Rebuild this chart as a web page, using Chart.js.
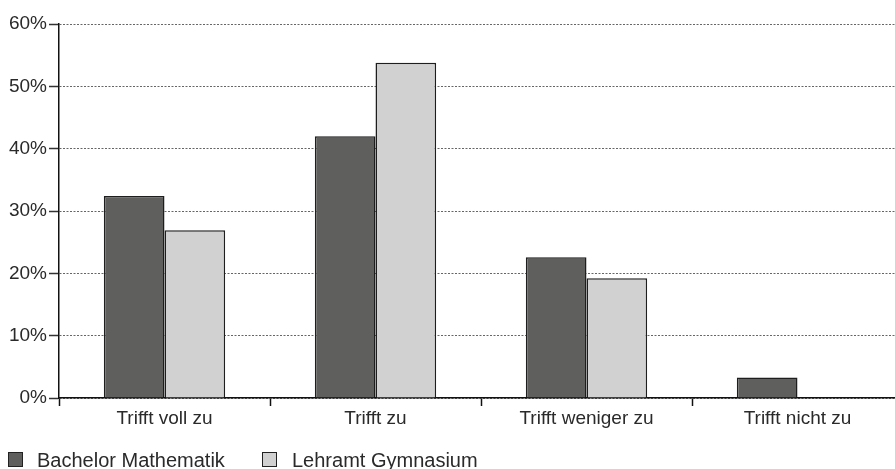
<!doctype html>
<html lang="de">
<head>
	<meta charset="utf-8">
	<title>Trifft zu</title>
	<script src="https://cdn.jsdelivr.net/npm/chart.js"></script>
	<style>
		body { margin: 0; background: #fff; font-family: "Liberation Sans", Arial, sans-serif; overflow: hidden; }
		.wrap { position: relative; width: 895px; height: 469px; overflow: hidden; }
		.legend { position: absolute; left: 0; top: 0; font-size: 20px; line-height: 20px; color: #2a2a2a; }
		.legend span { position: absolute; white-space: nowrap; }
		.legend .box { width: 15px; height: 15px; border: 1.5px solid #222; box-sizing: border-box; top: 452px; }
	</style>
</head>
<body>
	<div class="wrap">
		<canvas id="myChart" width="903" height="469"></canvas>
		<div class="legend" id="legend"></div>
	</div>
	<script>
		// Daten
		var kategorien = ["Trifft voll zu", "Trifft zu", "Trifft weniger zu", "Trifft nicht zu"];
		var bachelor = [32.4, 42.0, 22.6, 3.3];
		var lehramt = [26.9, 53.8, 19.2, 0];
		var serienNamen = ["Bachelor Mathematik", "Lehramt Gymnasium"];
		var farben = ["#5f5f5e", "#d0d1d0"];

		// Legende als HTML (Kästchen + Text)
		var legend = document.getElementById("legend");
		var pos = [[8, 37], [262, 292]];
		for (var i = 0; i < serienNamen.length; i++) {
			var box = document.createElement("span");
			box.className = "box";
			box.style.left = pos[i][0] + "px";
			box.style.background = farben[i];
			legend.appendChild(box);
			var txt = document.createElement("span");
			txt.textContent = serienNamen[i];
			txt.style.left = pos[i][1] + "px";
			txt.style.top = "450px";
			legend.appendChild(txt);
		}

		var ctx = document.getElementById("myChart").getContext("2d");
		var myChart = new Chart(ctx, {
			type: "bar",
			data: {
				labels: kategorien,
				datasets: [
					{ label: serienNamen[0], data: bachelor, backgroundColor: farben[0], borderColor: "#1e1e1e", borderWidth: 1.5, categoryPercentage: 0.575, barPercentage: 1 },
					{ label: serienNamen[1], data: lehramt, backgroundColor: farben[1], borderColor: "#1e1e1e", borderWidth: 1.5, categoryPercentage: 0.575, barPercentage: 1 }
				]
			},
			options: {
				responsive: false,
				animation: false,
				layout: { padding: { top: 24, right: 0, left: 0, bottom: 0 } },
				plugins: { legend: { display: false }, tooltip: { enabled: false } },
				scales: {
					x: {
						afterFit: function (s) { s.height = 71; },
						grid: { offset: true, drawOnChartArea: false, tickLength: 8, tickColor: "#111", tickWidth: 1.5 },
						border: { color: "#111", width: 1.5 },
						ticks: { color: "#2a2a2a", font: { family: "Liberation Sans", size: 19 }, padding: 1 }
					},
					y: {
						min: 0,
						max: 60,
						afterFit: function (s) { s.width = 59; },
						ticks: { stepSize: 10, color: "#2a2a2a", font: { family: "Liberation Sans", size: 19 }, padding: 2, callback: function (v) { return v + "%"; } },
						grid: { color: "#666", lineWidth: 1, tickLength: 10, tickColor: "#333", tickWidth: 1.5, tickBorderDash: [] },
						border: { color: "#111", width: 1.5, dash: [2, 1.5] }
					}
				}
			}
		});
	</script>
</body>
</html>
